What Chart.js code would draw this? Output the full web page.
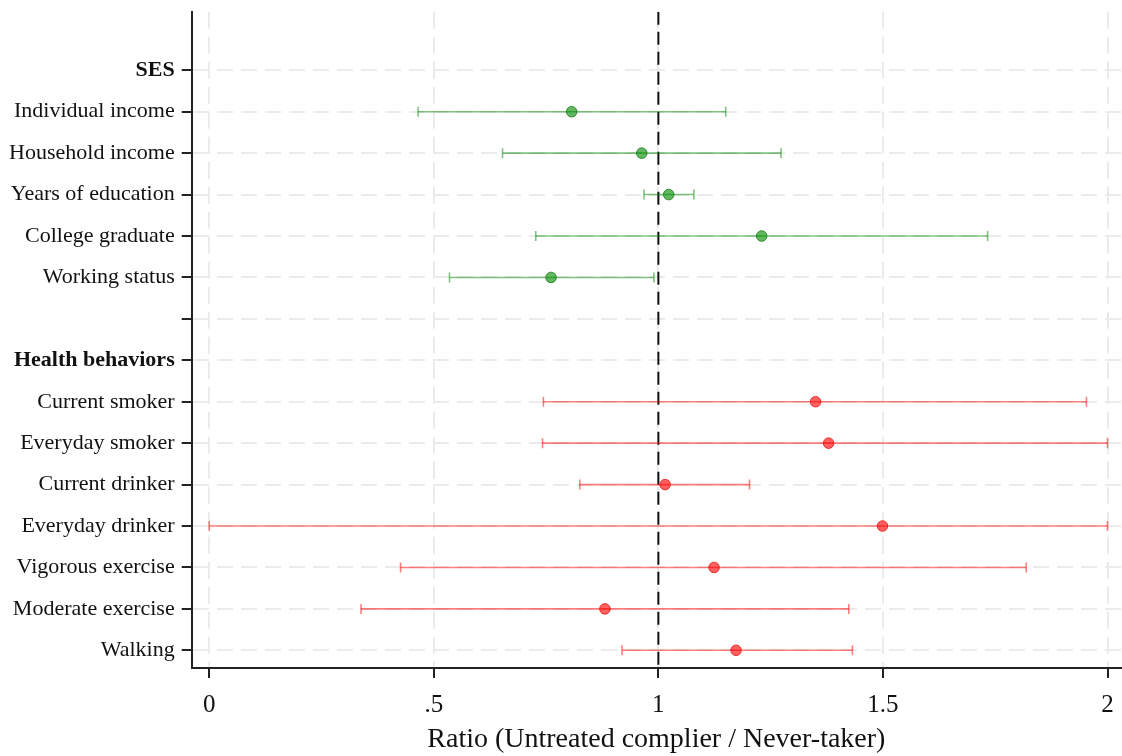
<!DOCTYPE html>
<html>
<head>
<meta charset="utf-8">
<script src="https://cdn.jsdelivr.net/npm/chart.js@4.4.1/dist/chart.umd.min.js"></script>
<style>
  html, body { margin: 0; padding: 0; background: #fff; }
  #wrap { width: 1122px; height: 756px; }
</style>
</head>
<body>
<div id="wrap"><canvas id="ratioChart" width="1122" height="756"></canvas></div>
<script>
// rows of the plot, top to bottom
var labels = ["SES", "Individual income", "Household income", "Years of education",
  "College graduate", "Working status", "", "Health behaviors", "Current smoker",
  "Everyday smoker", "Current drinker", "Everyday drinker", "Vigorous exercise",
  "Moderate exercise", "Walking"];
var headers = ["SES", "Health behaviors"];
var groups = ["", "ses", "ses", "ses", "ses", "ses", "", "", "health", "health",
  "health", "health", "health", "health", "health"];
var estimate = [null, 0.807, 0.963, 1.023, 1.230, 0.761, null, null, 1.350, 1.379, 1.015, 1.499, 1.124, 0.881, 1.173];
var lower    = [null, 0.465, 0.653, 0.968, 0.727, 0.535, null, null, 0.744, 0.742, 0.825, 0.000, 0.426, 0.338, 0.919];
var upper    = [null, 1.150, 1.273, 1.079, 1.733, 0.990, null, null, 1.953, 2.000, 1.203, 2.000, 1.819, 1.424, 1.432];
var xTicks = [0, 0.5, 1, 1.5, 2];
var refValue = 1;

var lineColor = { ses: 'rgba(0,140,0,0.5)', health: 'rgba(255,0,0,0.5)' };
var dotColor = { ses: 'rgba(0,140,0,0.62)', health: 'rgba(255,0,0,0.62)' };
var dotEdge = { ses: 'rgba(0,110,0,0.7)', health: 'rgba(230,0,0,0.7)' };

var yMin = -1.414, yMax = 14.427;
var serif = "'Liberation Serif', 'Times New Roman', serif";

var datasets = [];

// reference line at 1
datasets.push({
  type: 'scatter',
  data: [{ x: refValue, y: yMin }, { x: refValue, y: yMax }],
  showLine: true,
  borderColor: '#111',
  borderWidth: 2,
  borderDash: [13, 7],
  pointRadius: 0,
  order: 5
});

// confidence intervals with caps
labels.forEach(function (lab, i) {
  if (estimate[i] === null) return;
  var g = groups[i];
  datasets.push({
    type: 'scatter',
    data: [{ x: lower[i], y: i }, { x: upper[i], y: i }],
    showLine: true,
    borderColor: lineColor[g],
    borderWidth: 1.6,
    pointStyle: 'line',
    rotation: 90,
    pointRadius: 5,
    pointBorderColor: lineColor[g],
    pointBorderWidth: 1.6,
    order: 2
  });
});

// point estimates
['ses', 'health'].forEach(function (g) {
  var pts = [];
  labels.forEach(function (lab, i) {
    if (groups[i] === g && estimate[i] !== null) pts.push({ x: estimate[i], y: i });
  });
  datasets.push({
    type: 'scatter',
    data: pts,
    pointRadius: 5.3,
    pointBackgroundColor: dotColor[g],
    pointBorderColor: dotEdge[g],
    pointBorderWidth: 1,
    order: 1
  });
});

var gridOpts = {
  color: '#ebebeb',
  lineWidth: 2,
  tickLength: 10,
  tickColor: '#222',
  tickWidth: 2,
  tickBorderDash: []
};

function noPadding() {
  return { left: 0, top: 0, right: 0, bottom: 0 };
}

var ctx = document.getElementById("ratioChart").getContext('2d');
var myChart = new Chart(ctx, {
  type: 'scatter',
  data: { datasets: datasets },
  options: {
    responsive: false,
    animation: false,
    events: [],
    layout: { autoPadding: false, padding: { top: 11.7, right: 1, left: 0, bottom: 0 } },
    plugins: {
      legend: { display: false },
      tooltip: { enabled: false }
    },
    scales: {
      x: {
        type: 'linear',
        min: -0.039,
        max: 2.03,
        afterBuildTicks: function (scale) {
          scale.ticks = xTicks.map(function (v) { return { value: v }; });
        },
        afterFit: function (scale) {
          scale.height = 88;
          scale.paddingLeft = 0;
          scale.paddingRight = 0;
          scale.getPadding = noPadding;
        },
        border: { color: '#222', width: 2, dash: [17, 8] },
        grid: gridOpts,
        ticks: {
          color: '#111',
          padding: 12,
          font: { family: serif, size: 25 },
          callback: function (v) { return String(v).replace(/^0\./, '.'); }
        },
        title: {
          display: true,
          text: 'Ratio (Untreated complier / Never-taker)',
          color: '#111',
          font: { family: serif, size: 28 },
          padding: { top: 0, bottom: 0 }
        }
      },
      y: {
        type: 'linear',
        reverse: true,
        min: yMin,
        max: yMax,
        afterBuildTicks: function (scale) {
          scale.ticks = labels.map(function (l, i) { return { value: i }; });
        },
        afterFit: function (scale) {
          scale.width = 191.7;
          scale.paddingTop = 0;
          scale.paddingBottom = 0;
          scale.getPadding = noPadding;
        },
        border: { color: '#222', width: 2, dash: [16, 8] },
        grid: gridOpts,
        ticks: {
          color: '#111',
          padding: 7,
          autoSkip: false,
          font: function (c) {
            var lab = labels[c.tick ? c.tick.value : 0];
            return { family: serif, size: 22, weight: headers.indexOf(lab) >= 0 ? 'bold' : 'normal' };
          },
          callback: function (v) { return labels[v]; }
        }
      }
    }
  }
});
</script>
</body>
</html>
